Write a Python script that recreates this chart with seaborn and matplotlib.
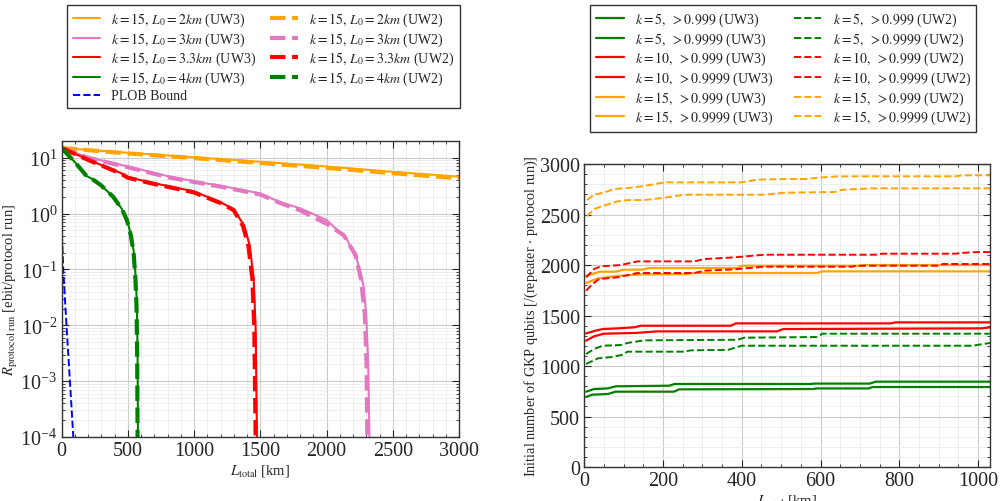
import numpy as np
import pandas as pd
import matplotlib
matplotlib.use("Agg")
import matplotlib.pyplot as plt
from matplotlib.ticker import MultipleLocator, LogLocator, NullFormatter
import seaborn as sns

# ---- left panel: rate vs distance ----
x_org = [0, 500, 1000, 1500, 2000, 2500, 3000]
r_org_uw3 = [15, 12.3, 10.2, 8.5, 7.0, 5.6, 4.6]
r_org_uw2 = [15, 12.0, 9.9, 8.1, 6.6, 5.3, 4.3]

x_pink_uw3 = [0, 200, 500, 800, 1000, 1250, 1500, 1650, 1800, 2000, 2150, 2230, 2280, 2300, 2315, 2324, 2330]
r_pink_uw3 = [15, 10.2, 7.0, 4.7, 3.8, 3.0, 2.3, 1.6, 1.25, 0.77, 0.36, 0.15, 0.05, 0.015, 0.002, 1e-4, 1e-6]
x_pink_uw2 = [0, 200, 500, 800, 1000, 1250, 1500, 1650, 1800, 2000, 2130, 2220, 2260, 2290, 2302, 2308, 2312]
r_pink_uw2 = [15, 10.0, 6.8, 4.5, 3.7, 2.9, 2.2, 1.55, 1.15, 0.66, 0.41, 0.18, 0.068, 0.015, 0.002, 1e-4, 1e-6]

x_red_uw3 = [0, 200, 450, 500, 700, 1000, 1200, 1300, 1380, 1420, 1450, 1465, 1475, 1480]
r_red_uw3 = [15, 9.3, 5.3, 4.5, 3.5, 2.5, 1.6, 1.2, 0.6, 0.27, 0.07, 0.009, 1e-4, 1e-6]
x_red_uw2 = [0, 200, 450, 500, 700, 1000, 1200, 1300, 1370, 1410, 1440, 1455, 1465, 1470]
r_red_uw2 = [15, 9.2, 5.2, 4.4, 3.4, 2.4, 1.55, 1.15, 0.6, 0.27, 0.07, 0.009, 1e-4, 1e-6]

x_grn_uw3 = [0, 100, 190, 230, 300, 390, 455, 495, 525, 546, 561, 569, 574, 577, 580]
r_grn_uw3 = [15, 8.4, 4.7, 4.2, 3.2, 2.0, 1.22, 0.76, 0.41, 0.2, 0.067, 0.022, 0.003, 1e-4, 1e-6]
x_grn_uw2 = [0, 100, 190, 230, 300, 390, 455, 494, 523, 544, 558, 566, 571, 574, 577]
r_grn_uw2 = [15, 8.4, 4.7, 4.2, 3.2, 2.0, 1.22, 0.76, 0.41, 0.2, 0.067, 0.022, 0.003, 1e-4, 1e-6]

x_plob = [0, 14, 39, 64, 89, 95]
r_plob = [0.62, 0.09, 8.7e-3, 9.5e-4, 1e-4, 5e-5]

# ---- right panel: GKP qubits vs distance ----
x_k5_3_uw3 = [5, 20, 60, 80, 228, 241, 580, 590, 722, 733, 1030]
n_k5_3_uw3 = [693, 716, 723, 746, 746, 769, 772, 778, 778, 792, 792]
x_k5_4_uw3 = [5, 25, 60, 80, 215, 230, 575, 585, 725, 740, 1030]
n_k5_4_uw3 = [746, 772, 778, 799, 805, 822, 822, 826, 826, 845, 845]
x_k10_3_uw3 = [5, 25, 50, 130, 185, 490, 505, 1010, 1030]
n_k10_3_uw3 = [1251, 1294, 1320, 1327, 1343, 1343, 1366, 1373, 1383]
x_k10_4_uw3 = [5, 25, 47, 85, 127, 144, 372, 385, 778, 790, 1030]
n_k10_4_uw3 = [1323, 1346, 1366, 1373, 1383, 1399, 1399, 1422, 1422, 1432, 1432]
x_k15_3_uw3 = [5, 35, 90, 150, 260, 280, 590, 605, 1030]
n_k15_3_uw3 = [1822, 1868, 1894, 1908, 1910, 1921, 1921, 1937, 1937]
x_k15_4_uw3 = [5, 40, 80, 100, 150, 165, 390, 400, 700, 710, 1030]
n_k15_4_uw3 = [1894, 1934, 1934, 1953, 1955, 1970, 1970, 1993, 1993, 2000, 2000]

x_k5_3_uw2 = [5, 35, 70, 95, 110, 255, 270, 365, 400, 985, 1000, 1030]
n_k5_3_uw2 = [1020, 1076, 1089, 1109, 1142, 1142, 1155, 1160, 1201, 1201, 1210, 1228]
x_k5_4_uw2 = [5, 25, 47, 93, 110, 152, 389, 406, 590, 605, 1030]
n_k5_4_uw2 = [1119, 1168, 1201, 1208, 1228, 1254, 1260, 1280, 1287, 1320, 1320]
x_k10_3_uw2 = [5, 21, 38, 85, 135, 280, 305, 381, 457, 680, 690, 900, 910, 1030]
n_k10_3_uw2 = [1746, 1812, 1861, 1878, 1921, 1921, 1944, 1957, 1983, 1983, 1993, 1993, 2010, 2010]
x_k10_4_uw2 = [5, 25, 42, 93, 135, 280, 305, 381, 457, 740, 756, 942, 967, 1000, 1030]
n_k10_4_uw2 = [1878, 1960, 1987, 2000, 2036, 2036, 2059, 2076, 2102, 2102, 2112, 2112, 2122, 2128, 2128]
x_k15_3_uw2 = [7, 25, 47, 85, 110, 152, 203, 254, 457, 508, 637, 654, 730, 1030]
n_k15_3_uw2 = [2482, 2554, 2584, 2630, 2643, 2643, 2666, 2696, 2696, 2716, 2723, 2745, 2759, 2759]
x_k15_4_uw2 = [7, 25, 51, 76, 110, 152, 203, 398, 440, 508, 561, 595, 646, 942, 960, 1030]
n_k15_4_uw2 = [2643, 2696, 2719, 2752, 2762, 2782, 2818, 2818, 2845, 2851, 2851, 2865, 2878, 2878, 2888, 2888]

sns.set_theme(style="ticks")
plt.rcParams["font.family"] = ["Liberation Serif", "DejaVu Serif"]
plt.rcParams["mathtext.fontset"] = "stix"
plt.rcParams["xtick.direction"] = "in"
plt.rcParams["ytick.direction"] = "in"

fig = plt.figure(figsize=(10.02, 5.02), dpi=100)
ax1 = fig.add_axes([0.0614, 0.1275, 0.3967, 0.5896])
ax2 = fig.add_axes([0.583, 0.0677, 0.405, 0.6036])


def line(ax, x, y, color, ls, lw, label):
    sns.lineplot(x=x, y=y, ax=ax, color=color, linestyle=ls, linewidth=lw,
                 label=label, estimator=None, sort=False)


# left panel
left_series = [
    (x_org, r_org_uw3, "orange", "2"),
    (x_pink_uw3, r_pink_uw3, "#e377c2", "3"),
    (x_red_uw3, r_red_uw3, "red", "3.3"),
    (x_grn_uw3, r_grn_uw3, "green", "4"),
]
left_series_uw2 = [
    (x_org, r_org_uw2, "orange", "2"),
    (x_pink_uw2, r_pink_uw2, "#e377c2", "3"),
    (x_red_uw2, r_red_uw2, "red", "3.3"),
    (x_grn_uw2, r_grn_uw2, "green", "4"),
]
for x, y, c, L0 in left_series:
    line(ax1, x, y, c, "-", 1.5, rf"$k=15,\, L_0={L0}km$ (UW3)")
line(ax1, x_plob, r_plob, "blue", "--", 1.4, "PLOB Bound")
for x, y, c, L0 in left_series_uw2:
    line(ax1, x, y, c, "--", 3.0, rf"$k=15,\, L_0={L0}km$ (UW2)")

ax1.set_yscale("log")
ax1.set_xlim(0, 3000)
ax1.set_ylim(1e-4, 20)
ax1.xaxis.set_major_locator(MultipleLocator(500))
ax1.xaxis.set_minor_locator(MultipleLocator(100))
ax1.yaxis.set_major_locator(LogLocator(base=10, numticks=10))
ax1.yaxis.set_minor_locator(LogLocator(base=10, subs=np.arange(2, 10), numticks=20))
ax1.yaxis.set_minor_formatter(NullFormatter())
ax1.set_xlabel(r"$L_{\rm total}$ [km]", fontsize=10.5, labelpad=1)
ax1.set_ylabel(r"$R_{\rm protocol\ run}$ [ebit/protocol run]", fontsize=10.5, labelpad=0)

# right panel
right_uw3 = [
    (x_k5_3_uw3, n_k5_3_uw3, "green", "5", "0.999"),
    (x_k5_4_uw3, n_k5_4_uw3, "green", "5", "0.9999"),
    (x_k10_3_uw3, n_k10_3_uw3, "red", "10", "0.999"),
    (x_k10_4_uw3, n_k10_4_uw3, "red", "10", "0.9999"),
    (x_k15_3_uw3, n_k15_3_uw3, "orange", "15", "0.999"),
    (x_k15_4_uw3, n_k15_4_uw3, "orange", "15", "0.9999"),
]
right_uw2 = [
    (x_k5_3_uw2, n_k5_3_uw2, "green", "5", "0.999"),
    (x_k5_4_uw2, n_k5_4_uw2, "green", "5", "0.9999"),
    (x_k10_3_uw2, n_k10_3_uw2, "red", "10", "0.999"),
    (x_k10_4_uw2, n_k10_4_uw2, "red", "10", "0.9999"),
    (x_k15_3_uw2, n_k15_3_uw2, "orange", "15", "0.999"),
    (x_k15_4_uw2, n_k15_4_uw2, "orange", "15", "0.9999"),
]
for x, y, c, k, f in right_uw3:
    line(ax2, x, y, c, "-", 1.6, rf"$k={k},\ >{f}$ (UW3)")
for x, y, c, k, f in right_uw2:
    line(ax2, x, y, c, "--", 1.4, rf"$k={k},\ >{f}$ (UW2)")

ax2.set_xlim(0, 1030)
ax2.set_ylim(0, 3000)
ax2.xaxis.set_major_locator(MultipleLocator(200))
ax2.xaxis.set_minor_locator(MultipleLocator(50))
ax2.yaxis.set_major_locator(MultipleLocator(500))
ax2.yaxis.set_minor_locator(MultipleLocator(100))
ax2.set_xlabel(r"$L_{\rm total}$ [km]", fontsize=10.5, labelpad=1)
ax2.set_ylabel(r"Initial number of GKP qubits [/(repeater $\cdot$ protocol run)]", fontsize=10.3, labelpad=0)

for ax in (ax1, ax2):
    ax.grid(which="major", color="#cccccc", linewidth=0.8)
    ax.grid(which="minor", color="#ebebeb", linewidth=0.6)
    ax.set_axisbelow(True)
    ax.tick_params(which="both", top=True, right=True, labelsize=14.5, pad=3)
    ax.tick_params(which="major", length=5, width=0.8)
    ax.tick_params(which="minor", length=2.5, width=0.6)
    for s in ax.spines.values():
        s.set_color("#333333")
        s.set_linewidth(1.0)

leg_kw = dict(ncol=2, fontsize=10, frameon=True, fancybox=False, framealpha=1,
              edgecolor="#333333", handlelength=2.0, labelspacing=0.17,
              borderpad=0.4, borderaxespad=0, loc="upper left",
              bbox_transform=fig.transFigure)
lg1 = ax1.legend(bbox_to_anchor=(0.0669, 0.988), columnspacing=1.0, **leg_kw)
lg2 = ax2.legend(bbox_to_anchor=(0.589, 0.988), columnspacing=1.5, **leg_kw)
for lg in (lg1, lg2):
    lg.get_frame().set_linewidth(1.0)

fig.savefig("out.png", dpi=100)
